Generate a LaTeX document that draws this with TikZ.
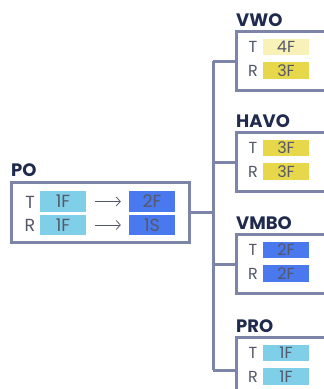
\documentclass[tikz,border=0pt]{standalone}
\usepackage{fontspec}
\setmainfont{Poppins}
\usetikzlibrary{arrows.meta}
\definecolor{frame}{HTML}{7C84A8}
\definecolor{navy}{HTML}{1F2A4D}
\definecolor{txt}{HTML}{55586A}
\definecolor{cyanc}{HTML}{7FCFE8}
\definecolor{bluec}{HTML}{4A78EE}
\definecolor{yellowc}{HTML}{E6D84A}
\definecolor{paleyc}{HTML}{F8F1B8}
\tikzset{
  lvlbox/.style={draw=frame, line width=3pt, fill=white},
  lvllabel/.style={anchor=west, font=\fontsize{18}{18}\selectfont\bfseries, text=navy, inner sep=0pt},
  rowlbl/.style={font=\fontsize{#1}{#1}\selectfont, text=txt, inner sep=0pt},
  rowlbl/.default=16,
  cell/.style={minimum width=46pt, minimum height=#1, inner sep=0pt, text=txt},
  conn/.style={draw=frame, line width=3pt},
  arr/.style={draw=txt, line width=0.8pt, -{Straight Barb[length=4pt,width=9pt]}}
}
\begin{document}
\begin{tikzpicture}[x=1pt,y=-1pt]
\useasboundingbox (0,0) rectangle (324,389);
\clip (0,0) rectangle (324,389);
% trunk
\coordinate (tt) at (213,61);
\coordinate (tb) at (213,370);
\coordinate (tm) at (213,212);
\draw[conn] (tt) -- (tb);
% PO
\node[lvllabel] (polbl) at (11,170) {PO};
\draw[lvlbox] (11,182) rectangle (189,242);
\coordinate (poe) at (189,212);
\draw[conn] (poe) -- (tm);
\node[rowlbl=17.5] (pot) at (30,202) {T};
\node[rowlbl=17.5] (por) at (30,225) {R};
\node[cell=21pt, rowlbl=17.5, fill=cyanc] (pot1) at (63,201.5) {1F};
\node[cell=20pt, rowlbl=17.5, fill=cyanc] (por1) at (63,225) {1F};
\node[cell=21pt, rowlbl=17.5, fill=bluec] (pot2) at (152,201.5) {2F};
\node[cell=20pt, rowlbl=17.5, fill=bluec] (por2) at (152,225) {1S};
\draw[arr] ([xshift=9pt]pot1.east) -- ([xshift=-8pt]pot2.west);
\draw[arr] ([xshift=9pt]por1.east) -- ([xshift=-8pt]por2.west);
% right levels
\foreach \nm/\lab/\top/\cy/\ca/\cb/\ta/\tb in {vwo/VWO/31/30/paleyc/yellowc/4F/3F, havo/HAVO/132/30/yellowc/yellowc/3F/3F, vmbo/VMBO/234/30/bluec/bluec/2F/2F, pro/PRO/337/33/cyanc/cyanc/1F/1F}{
  \node[lvllabel] (\nm lbl) at (236,\top-11) {\lab};
  \draw[lvlbox] (236,\top) rectangle (340,\top+59);
  \coordinate (\nm w) at (236,\top+\cy);
  \coordinate (\nm j) at (213,\top+\cy);
  \draw[conn] (\nm j) -- (\nm w);
  \node[rowlbl] (\nm t) at (253,\top+16) {T};
  \node[rowlbl] (\nm r) at (253,\top+39.5) {R};
  \node[cell=16.5pt, rowlbl, fill=\ca] (\nm c1) at (286,\top+16) {\ta};
  \node[cell=16.5pt, rowlbl, fill=\cb] (\nm c2) at (286,\top+39.5) {\tb};
}
\end{tikzpicture}
\end{document}
